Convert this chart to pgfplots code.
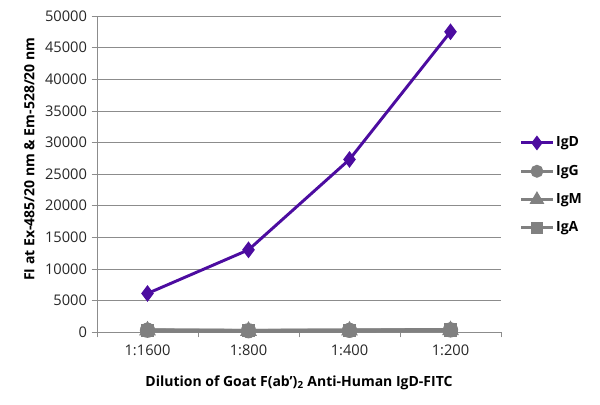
\documentclass[border=0pt]{standalone}
\usepackage{fontspec}
\setmainfont{Open Sans}
\usepackage{pgfplots}
\pgfplotsset{compat=1.18}
\definecolor{igdpurple}{RGB}{76,12,160}
\definecolor{iggray}{RGB}{128,128,128}
\definecolor{axgray}{RGB}{140,140,140}
\begin{document}
\begin{tikzpicture}
\begin{axis}[
    name=ax, at={(0,0)}, anchor=south west,
    scale only axis, width=303pt, height=237pt,
    xmin=-0.5, xmax=3.5, ymin=0, ymax=50000,
    xtick={0,1,2,3}, xticklabels={1:1600,1:800,1:400,1:200},
    minor xtick={-0.5,0.5,1.5,2.5,3.5},
    major x tick style={draw=none},
    minor x tick style={draw=axgray, thin},
    ytick={0,5000,...,50000},
    scaled y ticks=false,
    /pgf/number format/assume math mode=true,
    yticklabel style={/pgf/number format/fixed, /pgf/number format/1000 sep={}},
    ymajorgrids, major grid style={axgray, thin},
    axis x line*=bottom, axis y line*=left,
    axis line style={axgray, thin},
    every tick/.style={axgray, thin},
    tick align=outside, major tick length=4pt, minor tick length=4pt,
    tick label style={font=\fontsize{11}{13}\selectfont, text=black!85},
    xticklabel style={yshift=-2pt},
    xlabel={\textbf{Dilution of Goat F(ab')\textsubscript{2} Anti-Human IgD-FITC}},
    ylabel={\textbf{FI at Ex-485/20 nm \& Em-528/20 nm}},
    label style={font=\fontsize{10.5}{12}\selectfont},
    xlabel style={yshift=-8pt},
    ylabel style={at={(ticklabel cs:0.547)}, yshift=1pt},
    clip=false,
]
\addplot[iggray, line width=2.8pt, mark=*, mark size=4.3pt] coordinates {(0,280) (1,200) (2,260) (3,330)};
\addplot[iggray, line width=2.8pt, mark=triangle*, mark size=4.5pt] coordinates {(0,230) (1,170) (2,220) (3,280)};
\addplot[iggray, line width=2.8pt, mark=square*, mark size=3.6pt] coordinates {(0,250) (1,190) (2,240) (3,300)};
\addplot[igdpurple, line width=2.2pt, mark=diamond*, mark size=4.5pt] coordinates {(0,6100) (1,13000) (2,27300) (3,47500)};
\end{axis}
\begin{axis}[
    at={(0,0)}, anchor=south west,
    scale only axis, width=303pt, height=237pt,
    xmin=-0.5, xmax=3.5, ymin=0, ymax=50000, hide axis,
    legend style={at={(axis description cs:1.035,0.635)}, anchor=north west,
        draw=none, fill=none, font=\fontsize{10.5}{12}\selectfont\bfseries,
        row sep=8.2pt, legend cell align=left,
        nodes={inner xsep=1pt}},
    legend image code/.code={\draw[#1] (0cm,0cm) -- (0.85cm,0cm);
        \path[#1] plot coordinates {(0.42cm,0cm)};},
]
\addlegendimage{igdpurple, line width=2.2pt, mark=diamond*, mark size=3.8pt}
\addlegendentry{IgD}
\addlegendimage{iggray, line width=2.4pt, mark=*, mark size=3.6pt}
\addlegendentry{IgG}
\addlegendimage{iggray, line width=2.4pt, mark=triangle*, mark size=4pt}
\addlegendentry{IgM}
\addlegendimage{iggray, line width=2.4pt, mark=square*, mark size=3.2pt}
\addlegendentry{IgA}
\end{axis}
\path[use as bounding box] (-72.75pt,-54pt) rectangle (377.25pt,249pt);
\end{tikzpicture}
\end{document}
